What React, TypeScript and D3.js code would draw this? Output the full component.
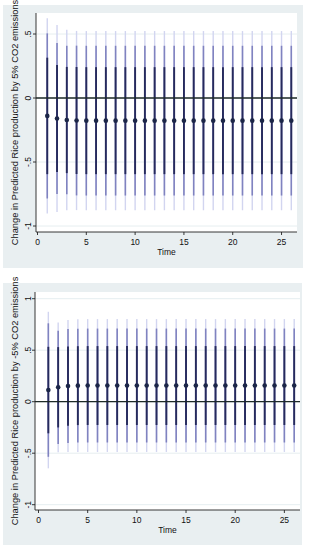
import * as d3 from "d3";

// time periods on the x axis
const times = [1, 2, 3, 4, 5, 6, 7, 8, 9, 10, 11, 12, 13, 14, 15, 16, 17, 18, 19, 20, 21, 22, 23, 24, 25, 26];

// +5% CO2 panel: point estimates and CI half-widths (inner / middle / outer)
const upEst = [-0.14, -0.16, -0.172, -0.176, -0.177, -0.177, -0.177, -0.177, -0.177, -0.177, -0.177, -0.177, -0.177, -0.177, -0.177, -0.177, -0.177, -0.177, -0.177, -0.177, -0.177, -0.177, -0.177, -0.177, -0.177, -0.177];
const upInner = [0.455, 0.418, 0.415, 0.418, 0.418, 0.418, 0.418, 0.418, 0.418, 0.418, 0.418, 0.418, 0.418, 0.418, 0.418, 0.418, 0.418, 0.418, 0.418, 0.418, 0.418, 0.418, 0.418, 0.418, 0.418, 0.418];
const upMiddle = [0.645, 0.59, 0.58, 0.585, 0.585, 0.585, 0.585, 0.585, 0.585, 0.585, 0.585, 0.585, 0.585, 0.585, 0.585, 0.585, 0.585, 0.585, 0.585, 0.585, 0.585, 0.585, 0.585, 0.585, 0.585, 0.585];
const upOuter = [0.763, 0.73, 0.705, 0.7, 0.7, 0.7, 0.7, 0.7, 0.7, 0.7, 0.7, 0.7, 0.7, 0.7, 0.7, 0.7, 0.7, 0.7, 0.7, 0.7, 0.7, 0.7, 0.7, 0.7, 0.7, 0.7];

// -5% CO2 panel
const downEst = [0.113, 0.14, 0.152, 0.156, 0.157, 0.157, 0.157, 0.157, 0.157, 0.157, 0.157, 0.157, 0.157, 0.157, 0.157, 0.157, 0.157, 0.157, 0.157, 0.157, 0.157, 0.157, 0.157, 0.157, 0.157, 0.157];
const downInner = [0.42, 0.39, 0.385, 0.383, 0.383, 0.383, 0.383, 0.383, 0.383, 0.383, 0.383, 0.383, 0.383, 0.383, 0.383, 0.383, 0.383, 0.383, 0.383, 0.383, 0.383, 0.383, 0.383, 0.383, 0.383, 0.383];
const downMiddle = [0.648, 0.55, 0.553, 0.553, 0.553, 0.553, 0.553, 0.553, 0.553, 0.553, 0.553, 0.553, 0.553, 0.553, 0.553, 0.553, 0.553, 0.553, 0.553, 0.553, 0.553, 0.553, 0.553, 0.553, 0.553, 0.553];
const downOuter = [0.76, 0.63, 0.64, 0.645, 0.645, 0.645, 0.645, 0.645, 0.645, 0.645, 0.645, 0.645, 0.645, 0.645, 0.645, 0.645, 0.645, 0.645, 0.645, 0.645, 0.645, 0.645, 0.645, 0.645, 0.645, 0.645];

const xTicks = [0, 5, 10, 15, 20, 25];
const upYTicks = [0.5, 0, -0.5, -1];
const downYTicks = [1, 0.5, 0, -0.5, -1];

const FONT = "'Liberation Sans', Arial, sans-serif";
const fmt = (v: number) => (v === 0 ? "0" : String(v).replace("0.", "."));

interface PanelProps {
  box: { x: number; y: number; w: number; h: number };
  plot: { left: number; top: number; right: number; bottom: number };
  xRange: [number, number];
  yDomain: [number, number];
  yRange: [number, number];
  yTicks: number[];
  est: number[];
  inner: number[];
  middle: number[];
  outer: number[];
  title: string;
}

const Panel = ({ box, plot, xRange, yDomain, yRange, yTicks, est, inner, middle, outer, title }: PanelProps) => {
  const x = d3.scaleLinear().domain([0, 26]).range(xRange);
  const y = d3.scaleLinear().domain(yDomain).range(yRange);

  const levels = [
    { hw: outer, color: "#d2d5f0", width: 1.4 },
    { hw: middle, color: "#8083c0", width: 1.6 },
    { hw: inner, color: "#262a5c", width: 1.9 },
  ];
  const midY = (plot.top + plot.bottom) / 2;
  const midX = (plot.left + plot.right) / 2;

  return (
    <g fontFamily={FONT}>
      <rect x={box.x} y={box.y} width={box.w} height={box.h} fill="#e9eff1" />
      <rect x={plot.left} y={plot.top} width={plot.right - plot.left} height={plot.bottom - plot.top} fill="#ffffff" />
      {yTicks.map((v) => (
        <line key={"g" + v} x1={plot.left} x2={plot.right} y1={y(v)} y2={y(v)} stroke="#e6eef0" strokeWidth={1} />
      ))}
      {levels.map((lv, li) => (
        <g key={li}>
          {times.map((t, i) => (
            <line
              key={t}
              x1={x(t)}
              x2={x(t)}
              y1={y(est[i] - lv.hw[i])}
              y2={y(est[i] + lv.hw[i])}
              stroke={lv.color}
              strokeWidth={lv.width}
            />
          ))}
        </g>
      ))}
      <line x1={plot.left} x2={plot.right} y1={y(0)} y2={y(0)} stroke="#1e2a28" strokeWidth={1.3} />
      {times.map((t, i) => (
        <circle key={t} cx={x(t)} cy={y(est[i])} r={2.3} fill="#1c2648" />
      ))}
      {/* y axis */}
      <line x1={plot.left} x2={plot.left} y1={plot.top} y2={plot.bottom} stroke="#222" strokeWidth={0.9} />
      {yTicks.map((v) => (
        <g key={"y" + v}>
          <line x1={plot.left - 3} x2={plot.left} y1={y(v)} y2={y(v)} stroke="#222" strokeWidth={0.9} />
          <text
            x={31}
            y={y(v)}
            transform={`rotate(-90, 31, ${y(v)})`}
            textAnchor="middle"
            fontSize={8.5}
            fill="#111"
          >
            {fmt(v)}
          </text>
        </g>
      ))}
      {/* x axis */}
      <line x1={plot.left} x2={plot.right} y1={plot.bottom} y2={plot.bottom} stroke="#222" strokeWidth={0.9} />
      {xTicks.map((v) => (
        <g key={"x" + v}>
          <line x1={x(v)} x2={x(v)} y1={plot.bottom} y2={plot.bottom + 3} stroke="#222" strokeWidth={0.9} />
          <text x={x(v)} y={plot.bottom + 13} textAnchor="middle" fontSize={8.5} fill="#111">
            {v}
          </text>
        </g>
      ))}
      <text x={midX} y={plot.bottom + 23} textAnchor="middle" fontSize={8.5} fill="#111">
        Time
      </text>
      <text
        x={17.5}
        y={midY}
        transform={`rotate(-90, 17.5, ${midY})`}
        textAnchor="middle"
        fontSize={9.3}
        fill="#111"
      >
        {title}
      </text>
    </g>
  );
};

export default function App() {
  return (
    <div style={{ position: "absolute", left: 0, top: 0 }}>
      <svg width={310} height={550} style={{ display: "block", background: "#fff" }}>
        <Panel
          box={{ x: 3, y: 5, w: 300, h: 263 }}
          plot={{ left: 36, top: 13, right: 297, bottom: 232 }}
          xRange={[37.5, 291.3]}
          yDomain={[-1, 0.5]}
          yRange={[226, 34]}
          yTicks={upYTicks}
          est={upEst}
          inner={upInner}
          middle={upMiddle}
          outer={upOuter}
          title="Change in Predicted Rice production by 5% CO2 emissions"
        />
        <Panel
          box={{ x: 3, y: 283, w: 299, h: 262 }}
          plot={{ left: 35, top: 292, right: 300, bottom: 510 }}
          xRange={[38.5, 294.2]}
          yDomain={[-1, 1]}
          yRange={[504.7, 298.7]}
          yTicks={downYTicks}
          est={downEst}
          inner={downInner}
          middle={downMiddle}
          outer={downOuter}
          title="Change in Predicted Rice production by -5% CO2 emissions"
        />
      </svg>
    </div>
  );
}
